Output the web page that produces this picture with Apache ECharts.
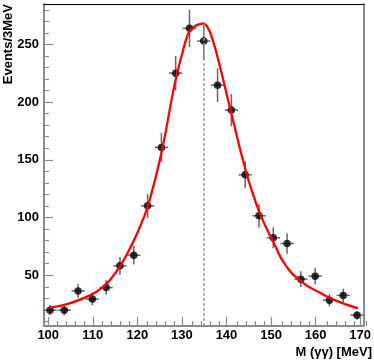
<!DOCTYPE html>
<html>
<head>
<meta charset="utf-8">
<script src="https://cdn.jsdelivr.net/npm/echarts@6/dist/echarts.min.js"></script>
<style>
html,body{margin:0;padding:0;background:#fff;}
#chart{width:374px;height:361px;}
</style>
</head>
<body>
<div id="chart"></div>
<script>
// ---- data ----
const massValues = [100.4,103.6,106.7,109.9,113.0,116.1,119.2,122.3,125.4,128.6,131.7,134.9,138.0,141.1,144.2,147.3,150.5,153.6,156.7,159.9,163.1,166.2,169.3];
const eventCounts = [19.7,19.7,36.4,29.3,39.3,58.1,67.4,110.1,160.7,225.1,263.9,252.9,214.7,193.1,137.0,101.5,82.4,77.5,46.6,49.2,28.4,32.5,15.4];
const eventErrors = [4.4,4.4,6.0,5.4,6.3,7.6,8.2,10.5,12.7,15.0,16.2,15.9,14.7,13.9,11.7,10.1,9.1,8.8,6.8,7.0,5.3,5.7,3.9];
const massHalfBin = [1.5,1.5,1.5,1.5,1.5,1.5,1.5,1.5,1.5,1.5,1.5,1.5,1.5,1.5,1.5,1.5,1.5,1.5,1.5,1.5,1.5,1.5,1.5];
const fitMass  = [100.2,103.4,107.8,112.3,116.0,118.9,121.2,122.6,125.4,128.4,130.0,131.4,132.5,133.7,134.8,135.8,136.9,138.0,139.1,141.3,144.3,146.5,148.0,150.5,153.2,156.9,160.6,164.3,169.5];
const fitCurve = [22.0,24.1,29.9,40.0,57.3,77.6,97.7,113.0,156.0,216.0,241.0,259.0,264.5,267.3,268.0,264.5,254.0,239.0,222.0,187.0,141.0,114.0,99.0,79.0,59.0,44.3,35.6,28.4,21.2];
const peakMass = 135;
const peakHeight = 268;
const xMajorTicks = [100,110,120,130,140,150,160,170];
const xMinorTicks = [102,104,106,108,112,114,116,118,122,124,126,128,132,134,136,138,142,144,146,148,152,154,156,158,162,164,166,168,170.5];
const yMajorTicks = [50,100,150,200,250];
const yMinorTicks = [10,20,30,40,60,70,80,90,110,120,130,140,160,170,180,190,210,220,230,240,260,270,280];
const xRange = [99.05, 170.75];
const yRange = [6, 285];

const FONT = 'Liberation Sans, Arial, sans-serif';
const AX = '#8a8a8a';

const chart = echarts.init(document.getElementById('chart'), null, {renderer:'canvas'});
const gridRect = {left:44, top:4, width:323, height:322};

const option = {
  animation:false,
  backgroundColor:'#fff',
  grid:[Object.assign({},gridRect), Object.assign({},gridRect)],
  xAxis:[
    {gridIndex:0, type:'value', position:'bottom', min:xRange[0], max:xRange[1],
     axisLine:{show:true, onZero:false, lineStyle:{color:AX, width:2}},
     axisTick:{show:true, inside:true, length:9, customValues:xMajorTicks, lineStyle:{color:AX, width:1.2}},
     axisLabel:{show:true, customValues:xMajorTicks, margin:3, color:'#000', fontFamily:FONT, fontWeight:'bold', fontSize:13},
     splitLine:{show:false}},
    {gridIndex:0, type:'value', position:'top', min:xRange[0], max:xRange[1],
     axisLine:{show:true, onZero:false, lineStyle:{color:'#000', width:1}},
     axisTick:{show:false}, axisLabel:{show:false}, splitLine:{show:false}},
    {gridIndex:1, type:'value', position:'bottom', min:xRange[0], max:xRange[1],
     axisLine:{show:false},
     axisTick:{show:true, inside:true, length:5, customValues:xMinorTicks, lineStyle:{color:AX, width:1.2}},
     axisLabel:{show:false}, splitLine:{show:false}}
  ],
  yAxis:[
    {gridIndex:0, type:'value', position:'left', min:yRange[0], max:yRange[1],
     axisLine:{show:true, onZero:false, lineStyle:{color:AX, width:2}},
     axisTick:{show:true, inside:true, length:9, customValues:yMajorTicks, lineStyle:{color:AX, width:1.2}},
     axisLabel:{show:true, customValues:yMajorTicks, margin:5, color:'#000', fontFamily:FONT, fontWeight:'bold', fontSize:13},
     splitLine:{show:false}},
    {gridIndex:0, type:'value', position:'right', min:yRange[0], max:yRange[1],
     axisLine:{show:true, onZero:false, lineStyle:{color:AX, width:2}},
     axisTick:{show:false}, axisLabel:{show:false}, splitLine:{show:false}},
    {gridIndex:1, type:'value', position:'left', min:yRange[0], max:yRange[1],
     axisLine:{show:false},
     axisTick:{show:true, inside:true, length:5, customValues:yMinorTicks, lineStyle:{color:AX, width:1.2}},
     axisLabel:{show:false}, splitLine:{show:false}}
  ],
  series:[
    {
      type:'custom', xAxisIndex:0, yAxisIndex:0, z:2,
      data: massValues.map((m,i)=>[m, eventCounts[i], eventErrors[i], massHalfBin[i]]),
      renderItem:function(params, api){
        const x = api.value(0), y = api.value(1), e = api.value(2), h = api.value(3);
        const top = api.coord([x, y+e]);
        const bot = api.coord([x, y-e]);
        const lft = api.coord([x-h, y]);
        const rgt = api.coord([x+h, y]);
        const st = {stroke:'#666666', lineWidth:1.5};
        return {type:'group', children:[
          {type:'line', shape:{x1:top[0], y1:top[1], x2:bot[0], y2:bot[1]}, style:st},
          {type:'line', shape:{x1:lft[0], y1:lft[1], x2:rgt[0], y2:rgt[1]}, style:st}
        ]};
      },
      markLine:{
        silent:true, symbol:'none', label:{show:false},
        lineStyle:{color:'#9a9a9a', width:1.5, type:[3,2]},
        data:[[{coord:[peakMass, yRange[0]]},{coord:[peakMass, peakHeight]}]]
      }
    },
    {
      type:'scatter', xAxisIndex:0, yAxisIndex:0, z:3,
      symbol:'circle', symbolSize:7.5,
      itemStyle:{color:'#000'},
      data: massValues.map((m,i)=>[m, eventCounts[i]])
    },
    {
      type:'line', xAxisIndex:0, yAxisIndex:0, z:4,
      smooth:0.5, showSymbol:false, symbol:'none',
      lineStyle:{color:'#ff0000', width:2.3},
      data: fitMass.map((m,i)=>[m, fitCurve[i]])
    }
  ],
  graphic:[
    {type:'text', x:8, y:4, rotation:Math.PI/2,
     style:{text:'Events/3MeV', align:'right', verticalAlign:'middle', fill:'#000',
            font:'bold 13px ' + FONT}},
    {type:'text', x:372, y:352,
     style:{text:'M (γγ) [MeV]', align:'right', verticalAlign:'middle', fill:'#000',
            font:'bold 13px ' + FONT}}
  ]
};
chart.setOption(option);
</script>
</body>
</html>
